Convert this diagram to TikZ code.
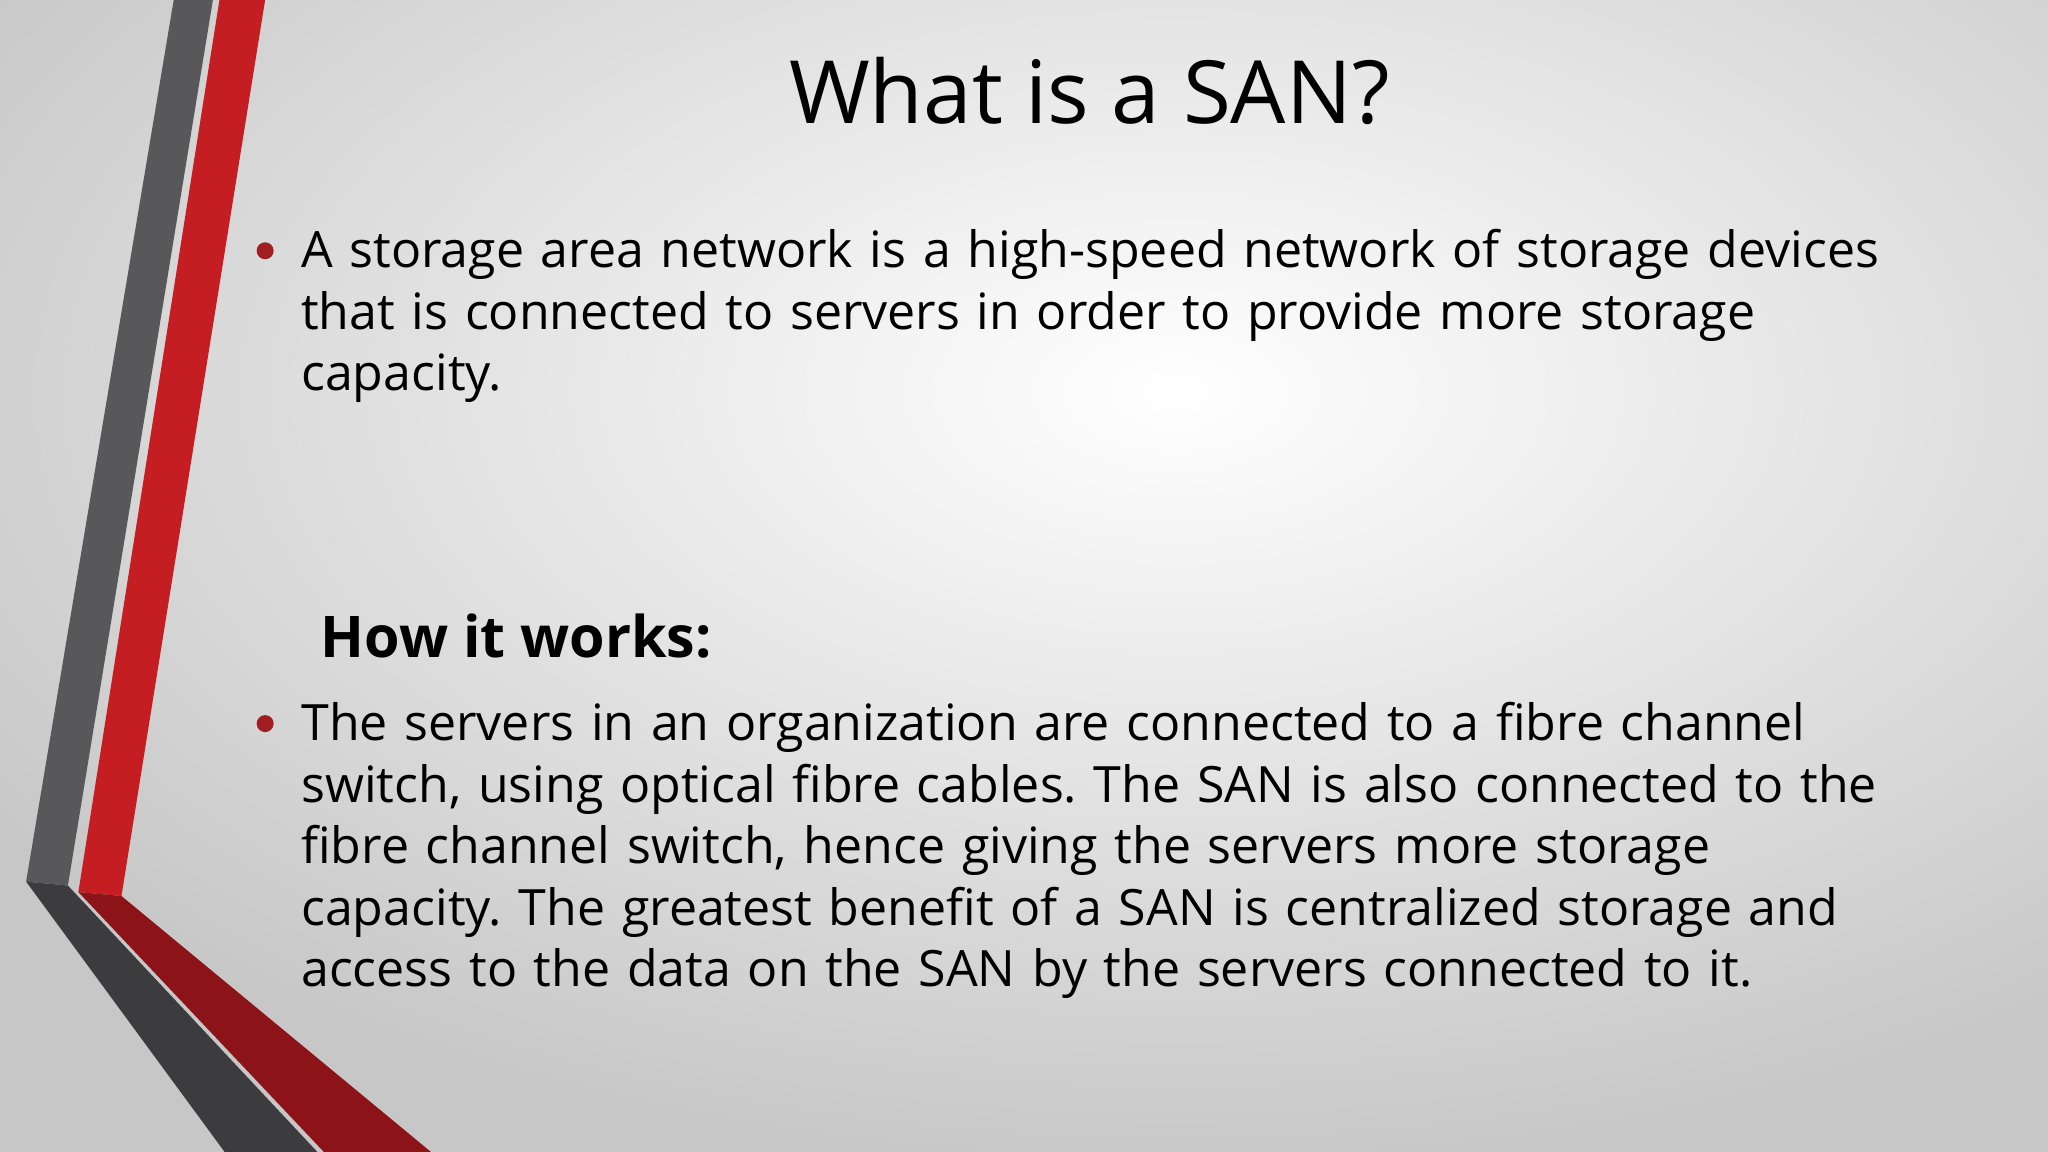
\documentclass[tikz,border=0pt]{standalone}
\usepackage{fontspec}
\setmainfont{Open Sans}
\frenchspacing
\usetikzlibrary{positioning}
\definecolor{slidered}{RGB}{196,30,34}
\definecolor{darkred}{RGB}{140,20,24}
\definecolor{bandgray}{RGB}{88,88,90}
\definecolor{bandgray2}{RGB}{60,60,62}
\definecolor{bulletred}{RGB}{160,30,34}
\tikzset{body/.style={anchor=north west, inner sep=0, align=left, font=\fontsize{10.9}{13.4}\selectfont, text width=14cm}}
\tikzset{bullet/.style={circle, fill=bulletred, inner sep=0, minimum size=0.13cm}}
\begin{document}
\begin{tikzpicture}[x=0.01cm,y=-0.01cm]
  \useasboundingbox (0,0) rectangle (1568,882);
  \clip (0,0) rectangle (1568,882);
  % background
  \shade[inner color=white, outer color=black!22] (-200,-300) rectangle (2000,900);
  % side bands
  \fill[bandgray] (133,0) -- (163,0) -- (52,678) -- (20,675) -- cycle;
  \fill[bandgray2] (20,675) -- (52,678) -- (243,882) -- (172,882) -- cycle;
  \fill[slidered] (168,0) -- (203,0) -- (93,686) -- (60,683) -- cycle;
  \fill[darkred] (60,683) -- (93,686) -- (330,882) -- (248,882) -- cycle;
  % title
  \node[font=\fontsize{19}{24}\selectfont] (title) at (834,70) {What is a SAN?};
  % first bullet
  \node[body] (def) at (230,175) {A storage area network is a high-speed network of storage devices\\that is connected to servers in order to provide more storage\\capacity.};
  \node[bullet] (b1) at (203,192) {};
  % heading
  \node[anchor=west, inner sep=0, font=\fontsize{12.5}{15}\bfseries\selectfont] (how) at (245,487) {How it works:};
  % second bullet
  \node[body] (works) at (230,537) {The servers in an organization are connected to a fibre channel\\switch, using optical fibre cables. The SAN is also connected to the\\fibre channel switch, hence giving the servers more storage\\capacity. The greatest benefit of a SAN is centralized storage and\\access to the data on the SAN by the servers connected to it.};
  \node[bullet] (b2) at (203,554) {};
\end{tikzpicture}
\end{document}
